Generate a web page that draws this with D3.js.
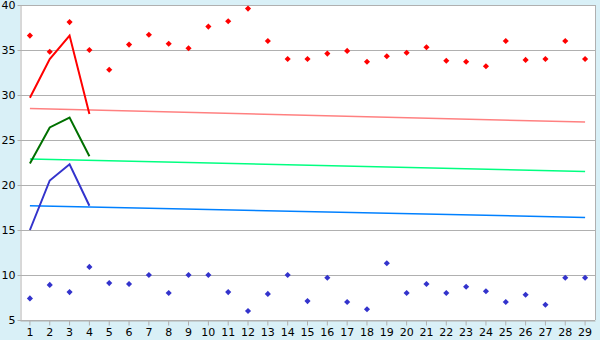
<!DOCTYPE html>
<html>
<head>
<meta charset="utf-8">
<script src="https://cdn.jsdelivr.net/npm/d3@7"></script>
<style>
    body { margin: 0; background: #d9f0f7; }
    svg { display: block; font-family: "DejaVu Sans", Verdana, sans-serif; }
</style>
</head>
<body>
<div id="chart"></div>
<script>
// Chart data
const days = d3.range(1, 30);
const high_values = [36.6, 34.8, 38.1, 35.0, 32.8, 35.6, 36.7, 35.7, 35.2, 37.6,
    38.2, 39.6, 36.0, 34.0, 34.0, 34.6, 34.9, 33.7, 34.3, 34.7,
    35.3, 33.8, 33.7, 33.2, 36.0, 33.9, 34.0, 36.0, 34.0];
const low_values = [7.4, 8.9, 8.1, 10.9, 9.1, 9.0, 10.0, 8.0, 10.0, 10.0,
    8.1, 6.0, 7.9, 10.0, 7.1, 9.7, 7.0, 6.2, 11.3, 8.0,
    9.0, 8.0, 8.7, 8.2, 7.0, 7.8, 6.7, 9.7, 9.7];
const red_line = [29.7, 34.0, 36.6, 27.9];
const green_line = [22.4, 26.4, 27.5, 23.2];
const blue_line = [15.0, 20.5, 22.3, 17.7];
// trend lines: value at day 1 and day 29
const red_trend = [28.5, 27.0];
const green_trend = [22.9, 21.5];
const blue_trend = [17.7, 16.4];
const y_ticks = [5, 10, 15, 20, 25, 30, 35, 40];

const attributes = {
    width: 600,
    height: 340,
    margin: { top: 5, right: 5, bottom: 20, left: 20 }
};

const svg = d3.select('#chart').append('svg')
    .attr('width', attributes.width)
    .attr('height', attributes.height);

const x_scale = d3.scaleBand()
    .domain(days)
    .range([attributes.margin.left, attributes.width - attributes.margin.right]);

const y_scale = d3.scaleLinear()
    .domain([5, 40])
    .range([attributes.height - attributes.margin.bottom, attributes.margin.top]);

const cx = d => x_scale(d) + x_scale.bandwidth() / 2;

// Plot background
svg.append('rect')
    .attr('x', attributes.margin.left)
    .attr('y', attributes.margin.top)
    .attr('width', attributes.width - attributes.margin.left - attributes.margin.right)
    .attr('height', attributes.height - attributes.margin.top - attributes.margin.bottom)
    .attr('fill', '#ffffff');

// Grid lines
svg.append('g')
    .selectAll('line')
    .data(y_ticks)
    .join('line')
    .attr('x1', attributes.margin.left)
    .attr('x2', attributes.width - attributes.margin.right)
    .attr('y1', d => Math.round(y_scale(d)) + 0.5)
    .attr('y2', d => Math.round(y_scale(d)) + 0.5)
    .attr('stroke', '#b0b0b0')
    .attr('stroke-width', 1);

// Right border
svg.append('line')
    .attr('x1', attributes.width - attributes.margin.right + 0.5)
    .attr('x2', attributes.width - attributes.margin.right + 0.5)
    .attr('y1', attributes.margin.top)
    .attr('y2', attributes.height - attributes.margin.bottom)
    .attr('stroke', '#b0b0b0');

// Y axis
const y_axis = svg.append('g')
    .attr('transform', 'translate(' + (attributes.margin.left + 0.5) + ',0)')
    .call(d3.axisLeft(y_scale).tickValues(y_ticks).tickSize(3).tickPadding(2).tickSizeOuter(0));
y_axis.selectAll('path, line').attr('stroke', '#b0b0b0');
y_axis.selectAll('text').attr('font-size', 11).attr('fill', '#000').attr('font-family', 'DejaVu Sans');

// X axis
const x_axis = svg.append('g')
    .attr('transform', 'translate(0,' + (attributes.height - attributes.margin.bottom + 0.5) + ')')
    .call(d3.axisBottom(x_scale).tickSize(5).tickPadding(3).tickSizeOuter(0));
x_axis.selectAll('path, line').attr('stroke', '#b0b0b0');
x_axis.selectAll('text').attr('font-size', 11).attr('fill', '#000').attr('font-family', 'DejaVu Sans');

// Trend lines
const trends = [
    { values: red_trend, color: '#ff8080' },
    { values: green_trend, color: '#00ff80' },
    { values: blue_trend, color: '#0080ff' }
];
svg.append('g')
    .selectAll('line')
    .data(trends)
    .join('line')
    .attr('x1', cx(days[0]))
    .attr('x2', cx(days[days.length - 1]))
    .attr('y1', d => y_scale(d.values[0]))
    .attr('y2', d => y_scale(d.values[1]))
    .attr('stroke', d => d.color)
    .attr('stroke-width', 1.5);

// Short lines over the first days
const short_lines = [
    { values: red_line, color: '#ff0000' },
    { values: green_line, color: '#007000' },
    { values: blue_line, color: '#3333cc' }
];
const line = d3.line()
    .x((d, i) => cx(days[i]))
    .y(d => y_scale(d));
svg.append('g')
    .selectAll('path')
    .data(short_lines)
    .join('path')
    .attr('d', d => line(d.values))
    .attr('fill', 'none')
    .attr('stroke', d => d.color)
    .attr('stroke-width', 2);

// Point markers
const marker = d3.symbol().type(d3.symbolDiamond2).size(24);
const point_series = [
    { values: high_values, color: '#ff0000' },
    { values: low_values, color: '#3333cc' }
];
point_series.forEach(s => {
    svg.append('g')
        .selectAll('path')
        .data(s.values)
        .join('path')
        .attr('d', marker)
        .attr('transform', (d, i) => 'translate(' + cx(days[i]) + ',' + y_scale(d) + ')')
        .attr('fill', s.color);
});
</script>
</body>
</html>
